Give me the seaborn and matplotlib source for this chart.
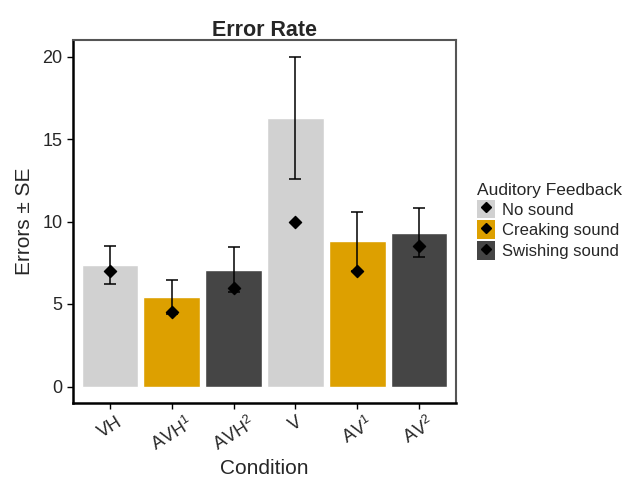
import numpy as np
import pandas as pd
import matplotlib
matplotlib.use('Agg')
import matplotlib.pyplot as plt
import seaborn as sns
from matplotlib.patches import Patch
from matplotlib.lines import Line2D

# Veriler
conditions = ['VH', 'AVH$^{1}$', 'AVH$^{2}$', 'V', 'AV$^{1}$', 'AV$^{2}$']
feedback = ['No sound', 'Creaking sound', 'Swishing sound',
            'No sound', 'Creaking sound', 'Swishing sound']
mean_errors = [7.39, 5.45, 7.09, 16.3, 8.79, 9.33]
se_errors = [1.15, 1.03, 1.35, 3.7, 1.8, 1.5]
median_errors = [7.0, 4.5, 6.0, 10.0, 7.0, 8.5]

feedback_levels = ['No sound', 'Creaking sound', 'Swishing sound']
palette = {'No sound': '#d1d1d1', 'Creaking sound': '#dda000', 'Swishing sound': '#454545'}

df = pd.DataFrame({'Condition': conditions, 'Feedback': feedback,
                   'Errors': mean_errors, 'SE': se_errors, 'Median': median_errors})

sns.set_style('white')
plt.rcParams['font.family'] = ['Liberation Sans', 'DejaVu Sans']
plt.rcParams['mathtext.fontset'] = 'custom'
plt.rcParams['mathtext.rm'] = 'Liberation Sans'
plt.rcParams['mathtext.it'] = 'Liberation Sans'

fig = plt.figure(figsize=(6.32, 4.78), dpi=100)
ax = fig.add_axes([73 / 632, 1 - 403 / 478, 383 / 632, 363 / 478])

sns.barplot(data=df, x='Condition', y='Errors', hue='Feedback', hue_order=feedback_levels,
            palette=palette, dodge=False, width=0.92, errorbar=None, saturation=1,
            legend=False, ax=ax)

xpos = np.arange(len(conditions))
ax.errorbar(xpos, df['Errors'], yerr=df['SE'], fmt='none', ecolor='black',
            elinewidth=1.1, capsize=4.5, capthick=1.1, zorder=3)
ax.scatter(xpos, df['Median'], marker='D', s=38, color='black', zorder=4)

ax.set_xlim(-0.6, 5.6)
ax.set_ylim(-1.0, 21.0)
ax.set_yticks([0, 5, 10, 15, 20])
ax.set_xticks(xpos)
ax.set_xticklabels(conditions, rotation=32, ha='center', fontsize=13)
ax.tick_params(axis='y', labelsize=13, length=4, width=1, color='black', left=True, direction='out')
ax.tick_params(axis='x', length=4, width=1, color='black', bottom=True, direction='out')

for side in ['top', 'right']:
    ax.spines[side].set_color('#555555')
    ax.spines[side].set_linewidth(1.5)
for side in ['left', 'bottom']:
    ax.spines[side].set_color('black')
    ax.spines[side].set_linewidth(1.8)

ax.set_title('Error Rate', fontsize=15.5, fontweight='bold', pad=3)
ax.set_xlabel('Condition', fontsize=15, labelpad=3)
ax.set_ylabel('Errors ± SE', fontsize=15, labelpad=6)

handles = [(Patch(facecolor=palette[f], edgecolor='none'),
            Line2D([], [], marker='D', color='black', linestyle='none', markersize=5))
           for f in feedback_levels]
fig.legend(handles, feedback_levels, title='Auditory Feedback', loc='upper left',
           bbox_to_anchor=(470 / 632, 1 - 176 / 478), frameon=False, fontsize=12,
           title_fontsize=12.5, handlelength=1.1, handleheight=1.35, handletextpad=0.4,
           labelspacing=0.12, alignment='left', borderaxespad=0)

fig.savefig('out.png', dpi=100)
